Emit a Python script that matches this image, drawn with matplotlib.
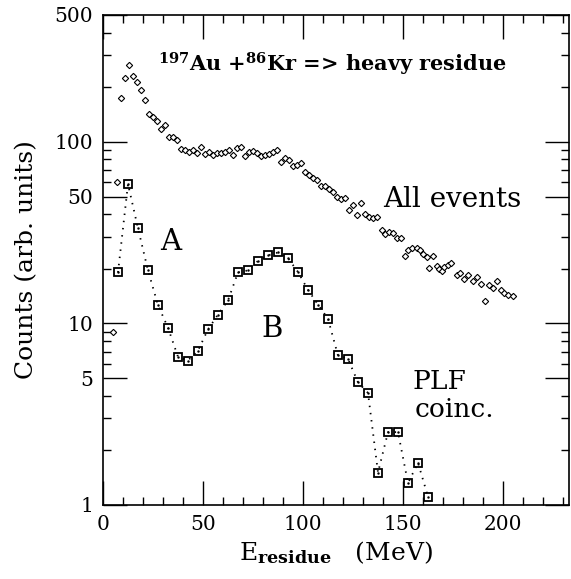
import numpy as np
import matplotlib
matplotlib.use("Agg")
import matplotlib.pyplot as plt
from matplotlib.ticker import FixedLocator, FixedFormatter, NullFormatter

plt.rcParams['font.family'] = ['DejaVu Serif']
plt.rcParams['mathtext.fontset'] = 'dejavuserif'

# all events (diamonds): 2 MeV bins below 139 MeV, read positions above
e_all = list(range(5, 139, 2)) + [
    139.3, 141, 143.2, 145.2, 146.8, 149, 151, 152.7, 154.7, 156.8,
    158.5, 160.2, 161.8, 163.2, 164.8, 166.8, 168.2, 169.5, 170.7, 172.3,
    174, 176.8, 178.5, 180.5, 182.7, 184.8, 186.8, 189, 191, 193.2,
    194.8, 196.8, 198.8, 200.7, 202.7, 204.8,
]
counts_all = [
    9.0, 60, 174, 226, 266, 232, 214, 193, 171, 142,
    138, 130, 118, 124, 107, 106, 103, 91.5, 90.7, 87.7,
    90.7, 86.9, 93.5, 85.9, 87.7, 85, 87, 86.5, 88, 90,
    85, 92.3, 93.5, 84, 88.5, 89.1, 86.9, 83.4, 84.8, 85.9,
    87.7, 90.7, 77.8, 81.2, 79.8, 73.9, 74.6, 76.5, 68.5, 65.7,
    63, 61.9, 56.9, 56.9, 55, 52.7, 49.8, 48.4, 48.8, 42.1,
    45.0, 39.6, 45.8, 40, 38.8, 38, 38.4,
    32.6, 31.0, 32.0, 31.3, 29.7, 29.5, 23.4, 25.4, 26.2, 25.9,
    25.3, 24.1, 23.2, 20.1, 23.5, 20.6, 19.9, 19.5, 20.5, 21.0,
    21.4, 18.4, 18.9, 17.5, 18.4, 17.1, 18.1, 16.4, 13.3, 16.2,
    15.7, 17.1, 15.3, 14.8, 14.3, 14.2,
]

# PLF coincidences (squares), 5 MeV bins
e_plf = np.arange(7.5, 163, 5)
counts_plf = [
    19.1, 58.6, 33.4, 19.6, 12.6, 9.47, 6.55, 6.25, 7.09, 9.27,
    11.2, 13.4, 19.1, 19.6, 22.1, 23.7, 24.6, 22.9, 19.2, 15.3,
    12.7, 10.6, 6.66, 6.38, 4.74, 4.14, 1.51, 2.52, 2.52, 1.32,
    1.71, 1.11,
]

# axes box in pixels of the 571x579 picture
L, R, T, B = 103, 569, 15, 505
W, H = 571, 579


def px(x, y):
    # picture pixel -> axes fraction
    return (x - L) / (R - L), (B - y) / (B - T)


fig = plt.figure(figsize=(W / 100, H / 100), dpi=100)
ax = fig.add_axes([L / W, 1 - B / H, (R - L) / W, (B - T) / H])

ax.plot(e_all, counts_all, linestyle='none', marker='D', markersize=3.2,
        markerfacecolor='white', markeredgecolor='black', markeredgewidth=0.8)
ax.plot(e_plf, counts_plf, color='black', linestyle=(0, (0.8, 3.2)), linewidth=1.3,
        marker='s', markersize=5.4, markerfacecolor='none',
        markeredgecolor='black', markeredgewidth=1.3)
ax.plot(e_plf, counts_plf, linestyle='none', marker='.', markersize=1.5, color='black')

ax.set_yscale('log')
ax.set_xlim(0, 233)
ax.set_ylim(1, 500)

ax.xaxis.set_major_locator(FixedLocator([0, 50, 100, 150, 200]))
ax.xaxis.set_minor_locator(FixedLocator(np.arange(10, 233, 10)))
ax.yaxis.set_major_locator(FixedLocator([1, 5, 10, 50, 100, 500]))
ax.yaxis.set_major_formatter(FixedFormatter(['1', '5', '10', '50', '100', '500']))
ax.yaxis.set_minor_locator(FixedLocator([2, 3, 4, 6, 7, 8, 9, 20, 30, 40, 60, 70, 80, 90,
                                         200, 300, 400]))
ax.yaxis.set_minor_formatter(NullFormatter())

ax.tick_params(which='both', direction='in', top=True, right=True, width=1.0,
               labelsize=14.5, pad=7)
ax.tick_params(which='major', length=17)
ax.tick_params(which='minor', length=5.5)
for s in ax.spines.values():
    s.set_linewidth(1.2)

ax.set_ylabel('Counts (arb. units)', fontsize=18, labelpad=12)
ax.set_xlabel(r'E$_{\mathbf{residue}}$   (MeV)', fontsize=18, labelpad=4)

tr = ax.transAxes
ax.text(*px(158, 72), r'$^{\mathbf{197}}$Au +$^{\mathbf{86}}$Kr => heavy residue',
        transform=tr, fontsize=15, fontweight='bold', va='baseline')
ax.text(*px(383, 207), 'All events', transform=tr, fontsize=20, va='baseline')
ax.text(*px(171, 250), 'A', transform=tr, fontsize=21, ha='center', va='baseline')
ax.text(*px(272, 337), 'B', transform=tr, fontsize=21, ha='center', va='baseline')
ax.text(*px(413, 389), 'PLF', transform=tr, fontsize=19, va='baseline')
ax.text(*px(415, 417), 'coinc.', transform=tr, fontsize=19, va='baseline')

fig.savefig('out.png', dpi=100)
